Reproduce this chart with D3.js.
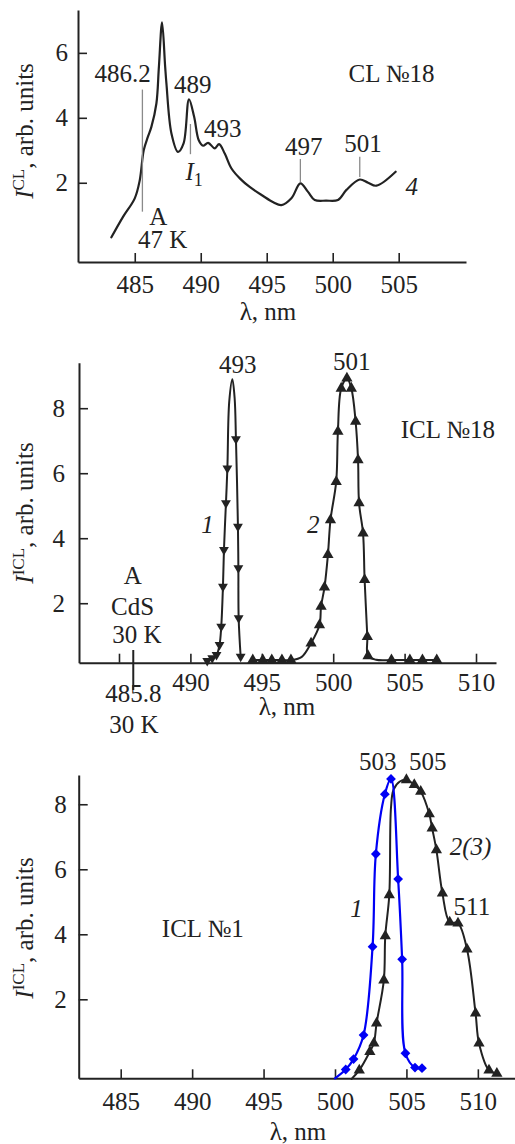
<!DOCTYPE html>
<html>
<head>
<meta charset="utf-8">
<script src="https://cdn.jsdelivr.net/npm/d3@7"></script>
<style>
  html, body { margin: 0; padding: 0; background: #fff; }
  svg text { font-family: "Liberation Serif", "LiberationSerif", "Tinos", "Nimbus Roman", "FreeSerif", "DejaVu Serif", serif; fill: #222; }
</style>
</head>
<body>
<svg id="chart" width="515" height="1144"></svg>
<script>
// ---------- Panel (a): CL spectrum of sample 18, curve 4 ----------
const clNm  = [483.23, 484.11, 485.0, 485.38, 485.68, 486.0, 486.26, 486.64, 486.83, 487.07, 487.3, 487.4,
               487.78, 488.28, 488.7, 489.11, 489.5, 489.85, 490.18, 490.56, 491.06, 491.39, 491.82,
               492.33, 493.0, 493.71, 494.7, 495.5, 496.11, 496.87, 497.55, 498.13, 498.64, 499.5,
               500.4, 501.04, 502.05, 502.68, 503.31, 504.77];
const clVal = [0.32, 0.95, 1.52, 2.08, 3.0, 3.42, 3.72, 4.44, 5.57, 6.94, 5.6, 5.06,
               3.52, 2.95, 3.21, 4.57, 4.03, 3.31, 3.14, 3.23, 3.06, 3.19, 2.9,
               2.44, 2.12, 1.87, 1.6, 1.4, 1.31, 1.52, 1.98, 1.72, 1.47, 1.45,
               1.47, 1.78, 2.1, 2.0, 1.91, 2.34];
const clXTicks = [485, 490, 495, 500, 505];
const clYTicks = [2, 4, 6];

// ---------- Panel (b): ICL spectra of sample 18, curves 1 and 2 ----------
const icl18c1Nm   = [491.18, 491.53, 491.83, 492.04, 492.16, 492.28, 492.35, 492.49, 492.59, 492.72, 492.94, 493.1, 493.19, 493.33, 493.36, 493.38, 493.52];
const icl18c1Val  = [0.23, 0.31, 0.41, 0.72, 1.28, 2.51, 3.64, 5.08, 6.15, 8.2, 8.89, 8.3, 7.05, 4.36, 3.08, 1.54, 0.36];
const icl18c1Mark = [1, 1, 1, 1, 1, 1, 1, 1, 1, 0, 0, 0, 1, 1, 1, 1, 1];

const icl18c2Nm   = [494.37, 495.07, 495.7, 496.41, 497.04, 497.8, 498.45, 499.04, 499.15, 499.39, 499.63, 499.81,
                     500.21, 500.33, 500.56, 500.96, 501.27, 501.57, 501.74, 501.81, 502.09, 502.2, 502.39, 502.44,
                     503.0, 504.08, 505.37, 506.25, 507.25];
const icl18c2Val  = [0.25, 0.25, 0.25, 0.25, 0.25, 0.35, 0.77, 1.33, 1.9, 2.49, 3.49, 4.56,
                     5.74, 7.28, 8.61, 8.92, 8.61, 7.59, 6.41, 5.08, 4.15, 2.72, 0.97, 0.38,
                     0.26, 0.25, 0.25, 0.25, 0.25];
const icl18c2Mark = [1, 1, 1, 1, 1, 0, 1, 1, 1, 1, 1, 1,
                     1, 1, 1, 1, 1, 1, 1, 1, 1, 1, 1, 1,
                     0, 1, 1, 1, 1];
const icl18XTicks = [485, 490, 495, 500, 505, 510];
const icl18XLabels = ["", "490", "495", "500", "505", "510"];
const icl18YTicks = [2, 4, 6, 8];

// ---------- Panel (c): ICL spectra of sample 1, curves 1 and 2(3) ----------
const icl1c1Nm   = [500.0, 500.75, 501.3, 502.0, 502.63, 502.86, 503.49, 503.92, 504.42, 504.7, 504.93, 505.6, 506.09];
const icl1c1Val  = [-0.43, -0.16, 0.16, 0.9, 3.62, 6.47, 8.31, 8.78, 5.7, 3.23, 0.34, -0.1, -0.12];
const icl1c1Mark = [0, 1, 1, 1, 1, 1, 1, 1, 1, 1, 1, 1, 1];

const icl1c2Nm   = [501.16, 501.7, 502.44, 502.72, 502.91, 503.42, 503.52, 503.8, 503.92, 504.1, 504.54, 505.0,
                    505.55, 506.0, 506.6, 506.8, 507.1, 507.52, 508.03, 508.61, 509.24, 509.84, 510.08, 510.78, 511.33];
const icl1c2Val  = [-0.45, -0.18, 0.39, 0.65, 1.26, 2.59, 3.95, 5.21, 7.9, 8.45, 8.7, 8.75,
                    8.6, 8.39, 7.7, 7.26, 6.59, 5.26, 4.37, 4.34, 3.54, 1.57, 0.65, -0.18, -0.28];
const icl1c2Mark = [0, 1, 1, 1, 1, 1, 1, 1, 0, 0, 0, 1,
                    1, 1, 1, 1, 1, 1, 1, 1, 1, 1, 1, 1, 1];
const icl1XTicks = [485, 490, 495, 500, 505, 510];
const icl1YTicks = [2, 4, 6, 8];

// ---------- drawing ----------
const svg = d3.select("#chart");
const FONT = 25;
const SERIF = "Liberation Serif, LiberationSerif, Tinos, Nimbus Roman, FreeSerif, DejaVu Serif, serif";
const INK = "#222";
const BLUE = "#0000f5";

function zip(xs, ys, ms) {
  return xs.map((x, i) => ({ x, y: ys[i], m: ms ? ms[i] : 0 }));
}

function makePanel(opt) {
  const x = d3.scaleLinear().domain(opt.xDomain).range(opt.xRange);
  const y = d3.scaleLinear().domain(opt.yDomain).range(opt.yRange);
  const g = svg.append("g");

  const xAxis = d3.axisBottom(x).tickValues(opt.xTicks).tickSizeInner(-9).tickSizeOuter(0)
    .tickPadding(opt.xPad);
  if (opt.xLabels) xAxis.tickFormat((d, i) => opt.xLabels[i]);
  const gx = g.append("g").attr("transform", `translate(0,${opt.yRange[0]})`).call(xAxis);

  const yAxis = d3.axisLeft(y).tickValues(opt.yTicks).tickSizeInner(-9).tickSizeOuter(0)
    .tickPadding(opt.yPad);
  const gy = g.append("g").attr("transform", `translate(${opt.xRange[0]},0)`).call(yAxis);

  [gx, gy].forEach(a => {
    a.attr("font-family", null).attr("font-size", FONT);
    a.select(".domain").attr("stroke", INK).attr("stroke-width", 2);
    a.selectAll(".tick line").attr("stroke", INK).attr("stroke-width", 1.6);
    a.selectAll(".tick text").attr("font-size", FONT).attr("fill", INK);
  });

  // axis titles
  g.append("text").attr("x", opt.xTitle[0]).attr("y", opt.xTitle[1])
    .attr("text-anchor", "middle").attr("font-size", FONT).text("λ, nm");

  const yt = g.append("text")
    .attr("transform", `translate(${opt.yTitle[0]},${opt.yTitle[1]}) rotate(-90)`)
    .attr("text-anchor", "middle").attr("font-size", FONT);
  yt.append("tspan").attr("font-style", "italic").text("I");
  yt.append("tspan").attr("font-size", 17).attr("dy", -9).text(opt.sup);
  yt.append("tspan").attr("dy", 9).text(", arb. units");

  return { g, x, y };
}

function drawCurve(p, pts, color, width) {
  const line = d3.line().x(d => p.x(d.x)).y(d => p.y(d.y)).curve(d3.curveCatmullRom.alpha(0.5));
  p.g.append("path").datum(pts).attr("d", line)
    .attr("fill", "none").attr("stroke", color).attr("stroke-width", width)
    .attr("stroke-linejoin", "round").attr("stroke-linecap", "round");
}

function drawMarkers(p, pts, symbol, size, rot, color) {
  const sym = d3.symbol().type(symbol).size(size);
  p.g.append("g").selectAll("path").data(pts.filter(d => d.m)).join("path")
    .attr("d", sym)
    .attr("transform", d => `translate(${p.x(d.x)},${p.y(d.y)}) rotate(${rot})`)
    .attr("fill", color);
}

function label(p, xv, yv, txt, opts = {}) {
  const t = p.g.append("text").attr("x", p.x(xv)).attr("y", p.y(yv))
    .attr("text-anchor", opts.anchor || "middle").attr("font-size", opts.size || FONT);
  if (opts.italic) t.attr("font-style", "italic");
  t.text(txt);
  return t;
}

function vline(p, xv, y0, y1, color, width) {
  p.g.append("line").attr("x1", p.x(xv)).attr("x2", p.x(xv))
    .attr("y1", p.y(y0)).attr("y2", p.y(y1))
    .attr("stroke", color).attr("stroke-width", width);
}

// Panel (a)
const pA = makePanel({
  xDomain: [480.7, 510.1], xRange: [78, 466],
  yDomain: [-0.44, 7.32], yRange: [262, 10],
  xTicks: clXTicks, yTicks: clYTicks, xPad: 13, yPad: 10,
  xTitle: [268, 320], yTitle: [33, 131], sup: "CL"
});
drawCurve(pA, zip(clNm, clVal), INK, 2.2);
vline(pA, 485.58, 1.11, 4.87, "#8a8a8a", 1.3);
label(pA, 484.09, 5.1, "486.2");
label(pA, 486.79, 0.7, "A");
label(pA, 487.12, 0.0, "47 K");
label(pA, 489.39, 4.75, "489");
vline(pA, 489.22, 2.88, 3.81, "#8a8a8a", 1.3);
{
  const t = label(pA, 489.5, 2.08, "", { italic: true });
  t.append("tspan").text("I");
  t.append("tspan").attr("font-style", "normal").attr("font-size", 18).attr("dy", 6).text("1");
}
label(pA, 491.67, 3.42, "493");
label(pA, 497.8, 2.85, "497");
vline(pA, 497.55, 2.02, 2.73, "#8a8a8a", 1.3);
label(pA, 502.3, 2.95, "501");
vline(pA, 502.05, 2.18, 2.8, "#8a8a8a", 1.3);
label(pA, 505.98, 1.62, "4", { italic: true });
label(pA, 504.46, 5.11, "CL №18");

// Panel (b)
const pB = makePanel({
  xDomain: [482.2, 511.4], xRange: [79, 496],
  yDomain: [0.17, 9.4], yRange: [662.7, 362.7],
  xTicks: icl18XTicks, xLabels: icl18XLabels, yTicks: icl18YTicks, xPad: 11, yPad: 14,
  xTitle: [287, 715], yTitle: [33, 513], sup: "ICL"
});
const b1 = zip(icl18c1Nm, icl18c1Val, icl18c1Mark);
const b2 = zip(icl18c2Nm, icl18c2Val, icl18c2Mark);
drawCurve(pB, b1, INK, 2);
drawCurve(pB, b2, INK, 2);
drawMarkers(pB, b1, d3.symbolTriangle, 42, 180, INK);
drawMarkers(pB, b2, d3.symbolTriangle, 55, 0, INK);
label(pB, 493.31, 9.09, "493");
label(pB, 501.3, 9.18, "501");
label(pB, 508.03, 7.08, "ICL №18");
label(pB, 491.2, 4.17, "1", { italic: true });
label(pB, 498.6, 4.16, "2", { italic: true });
label(pB, 485.96, 2.58, "A");
label(pB, 485.95, 1.64, "CdS");
label(pB, 486.25, 0.77, "30 K");
vline(pB, 486.0, 0.56, -0.67, INK, 2);
label(pB, 486.0, -1.03, "485.8");
label(pB, 486.05, -2.0, "30 K");

// Panel (c)
const pC = makePanel({
  xDomain: [482.06, 512.6], xRange: [78.7, 515],
  yDomain: [-0.43, 8.9], yRange: [1078.3, 775],
  xTicks: icl1XTicks, yTicks: icl1YTicks, xPad: 14, yPad: 12,
  xTitle: [298, 1140], yTitle: [33, 928], sup: "ICL"
});
const c1 = zip(icl1c1Nm, icl1c1Val, icl1c1Mark);
const c2 = zip(icl1c2Nm, icl1c2Val, icl1c2Mark);
drawCurve(pC, c2, INK, 2);
drawMarkers(pC, c2, d3.symbolTriangle, 55, 0, INK);
drawCurve(pC, c1, BLUE, 2.2);
drawMarkers(pC, c1, d3.symbolSquare, 48, 45, BLUE);
label(pC, 503.0, 9.06, "503");
label(pC, 506.49, 9.06, "505");
label(pC, 509.49, 6.44, "2(3)", { italic: true });
label(pC, 509.58, 4.59, "511");
label(pC, 501.51, 4.54, "1", { italic: true });
label(pC, 490.75, 3.93, "ICL №1");
</script>
</body>
</html>
